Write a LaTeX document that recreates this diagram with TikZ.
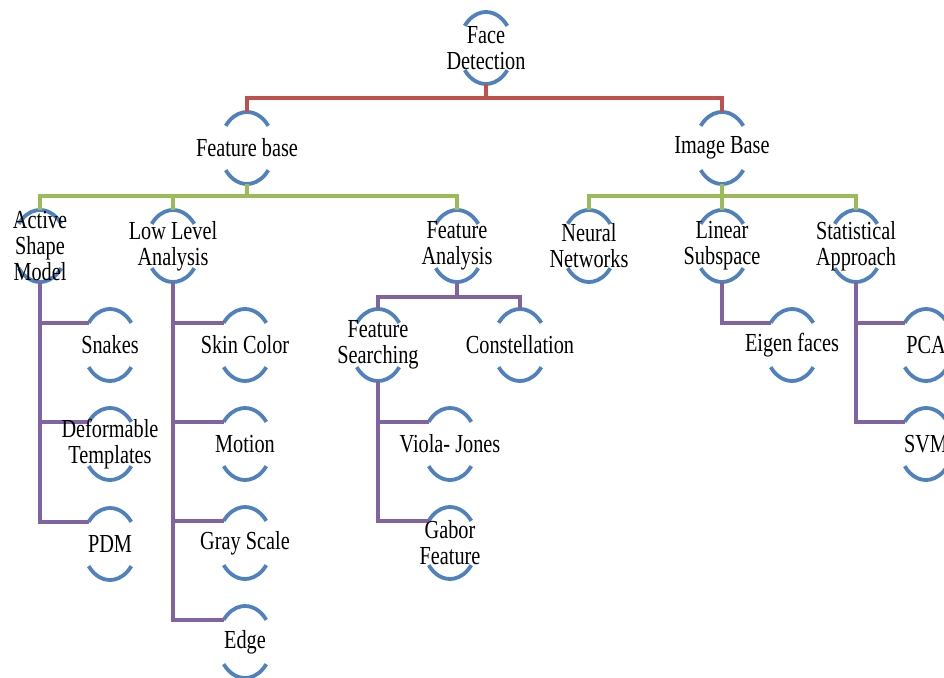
\documentclass[tikz,border=0pt]{standalone}
\usepackage{fontspec}
\setmainfont{Liberation Serif}[FakeStretch=0.78]
\usetikzlibrary{backgrounds}
\definecolor{arcblue}{HTML}{4F81BD}
\definecolor{linkred}{HTML}{C0504D}
\definecolor{linkgreen}{HTML}{9BBB59}
\definecolor{linkpurple}{HTML}{8064A2}

\begin{document}
\begin{tikzpicture}[
		topic/.style={align=center, inner sep=0pt, font=\fontsize{26pt}{26pt}\selectfont},
		ring/.style={draw=arcblue, line width=3.8pt},
		redlink/.style={draw=linkred, line width=3.6pt},
		greenlink/.style={draw=linkgreen, line width=3.6pt},
		purplelink/.style={draw=linkpurple, line width=3.6pt}]
	\useasboundingbox (0,0) rectangle (944pt,-677pt);
	\node[topic] (fd) at (486pt,-48pt) {Face\\Detection};
	\node[topic] (fb) at (247pt,-148pt) {Feature base};
	\node[topic] (ib) at (722pt,-148pt) {Image Base};
	\node[topic] (asm) at (40pt,-246pt) {Active\\Shape\\Model};
	\node[topic] (lla) at (173pt,-246pt) {Low Level\\Analysis};
	\node[topic] (fa) at (457pt,-246pt) {Feature\\Analysis};
	\node[topic] (nn) at (589pt,-246pt) {Neural\\Networks};
	\node[topic] (ls) at (722pt,-246pt) {Linear\\Subspace};
	\node[topic] (sa) at (856pt,-246pt) {Statistical\\Approach};
	\node[topic] (sn) at (110pt,-345pt) {Snakes};
	\node[topic] (dt) at (110pt,-444pt) {Deformable\\Templates};
	\node[topic] (pdm) at (110pt,-544pt) {PDM};
	\node[topic] (sc) at (245pt,-345pt) {Skin Color};
	\node[topic] (mo) at (245pt,-444pt) {Motion};
	\node[topic] (gs) at (245pt,-543pt) {Gray Scale};
	\node[topic] (ed) at (245pt,-642pt) {Edge};
	\node[topic] (fs) at (378pt,-345pt) {Feature\\Searching};
	\node[topic] (co) at (520pt,-345pt) {Constellation};
	\node[topic] (vj) at (450pt,-444pt) {Viola- Jones};
	\node[topic] (gf) at (450pt,-543pt) {Gabor\\Feature};
	\node[topic] (ef) at (792pt,-345pt) {Eigen faces};
	\node[topic] (pca) at (926pt,-345pt) {PCA};
	\node[topic] (svm) at (926pt,-444pt) {SVM};
	\begin{pgfonlayer}{background}
		\foreach \n in {fd,fb,ib,asm,lla,fa,nn,ls,sa,sn,dt,pdm,sc,mo,gs,ed,fs,co,vj,gf,ef,pca,svm}{
			\draw[ring] ([shift={(38:27pt and 36pt)}]\n.center) arc[start angle=38, end angle=142, x radius=27pt, y radius=36pt];
			\draw[ring] ([shift={(218:27pt and 36pt)}]\n.center) arc[start angle=218, end angle=322, x radius=27pt, y radius=36pt];
		}
		\foreach \c in {fb,ib}
			\draw[redlink] ([yshift=-36pt]fd.center) -- ++(0,-14pt) -| ([yshift=36pt]\c.center);
		\foreach \p/\c in {fb/asm,fb/lla,fb/fa,ib/nn,ib/ls,ib/sa}
			\draw[greenlink] ([yshift=-36pt]\p.center) -- ++(0,-12pt) -| ([yshift=36pt]\c.center);
		\foreach \c in {fs,co}
			\draw[purplelink] ([yshift=-36pt]fa.center) -- ++(0,-15pt) -| ([yshift=36pt]\c.center);
		\foreach \p/\c in {asm/sn,asm/dt,asm/pdm,lla/sc,lla/mo,lla/gs,lla/ed,fs/vj,fs/gf,ls/ef,sa/pca,sa/svm}
			\draw[purplelink] ([yshift=-36pt]\p.center) |- ([shift={(142:27pt and 36pt)}]\c.center);
	\end{pgfonlayer}
\end{tikzpicture}
\end{document}
